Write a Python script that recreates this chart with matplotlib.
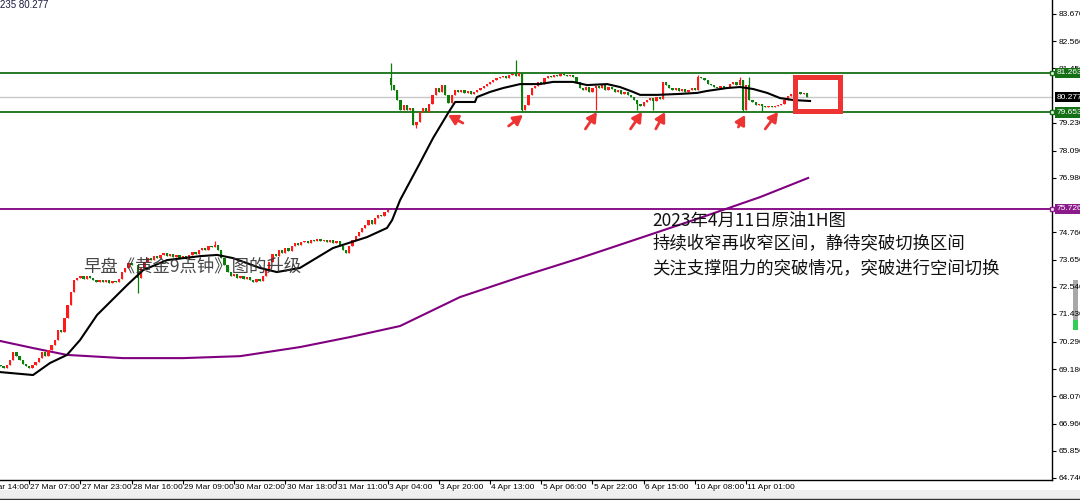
import numpy as np
import matplotlib.pyplot as plt
from matplotlib.patches import Rectangle
from matplotlib.lines import Line2D
from matplotlib.transforms import blended_transform_factory

plt.rcParams['font.family'] = ['Liberation Sans', 'DejaVu Sans']
CJK = ['Noto Sans CJK SC', 'DejaVu Sans']

# 原油 1H 收盘价 (bar 7 .. 259)
bar_start = 7
closes = [
    69.31, 69.23, 69.35, 69.55, 69.88, 69.71, 69.55, 69.39, 69.31, 69.23,
    69.35, 69.47, 69.63, 69.88, 69.71, 69.96, 70.17, 70.37, 70.78, 70.70,
    71.27, 71.80, 72.33, 72.82, 72.90, 72.98, 72.86, 72.98, 72.90, 72.82,
    72.75, 72.82, 72.75, 72.82, 72.69, 72.78, 72.75, 72.86, 73.14, 73.31,
    73.51, 73.43, 73.43, 72.90, 73.31, 73.55, 73.71, 73.63, 73.79, 73.71,
    73.84, 73.92, 73.79, 73.88, 73.76, 73.84, 73.71, 73.79, 73.67, 73.84,
    73.96, 73.88, 74.04, 74.12, 74.04, 74.20, 74.16, 74.24, 74.04, 73.71,
    73.43, 73.14, 72.98, 73.06, 72.90, 72.98, 72.86, 72.94, 72.82, 72.75,
    72.86, 72.78, 72.98, 73.22, 73.55, 73.88, 73.79, 74.04, 73.92, 74.12,
    74.00, 74.20, 74.33, 74.24, 74.37, 74.41, 74.33, 74.45, 74.41, 74.49,
    74.41, 74.45, 74.37, 74.45, 74.33, 74.41, 74.20, 74.04, 73.92, 74.20,
    74.45, 74.61, 74.78, 74.94, 75.06, 75.26, 75.10, 75.35, 75.47, 75.43,
    75.59, 75.67,
    80.77, 80.57, 80.16, 79.75, 79.96, 79.75, 79.83, 79.14, 79.26, 79.67,
    79.83, 79.67, 80.00, 80.37, 80.65, 80.49, 80.77, 80.37, 80.04, 80.37,
    80.57, 80.49, 80.57, 80.45, 80.53, 80.41, 80.49, 80.57, 80.65, 80.73,
    80.81, 80.90, 80.98, 81.06, 81.10, 81.14, 81.06, 81.18, 81.22, 81.14,
    81.26, 79.75, 79.96, 80.37, 80.65, 80.73, 80.90, 80.81, 81.06, 81.14,
    81.10, 81.18, 81.14, 81.22, 81.18, 81.14, 81.18, 81.10, 80.90, 80.65,
    80.57, 80.69, 80.49, 80.65, 80.73, 80.65, 80.77, 80.57, 80.69, 80.61,
    80.49, 80.57, 80.41, 80.49, 80.37, 80.28, 80.16, 80.00, 79.92, 80.08,
    80.16, 80.24, 80.12, 80.28, 80.20, 80.90, 80.77, 80.65, 80.57, 80.65,
    80.53, 80.61, 80.49, 80.57, 80.65, 80.57, 81.10, 81.06, 80.98, 80.81,
    80.77, 80.69, 80.65, 80.73, 80.65, 80.69, 80.81, 80.90, 80.77, 80.98,
    79.75, 80.77, 80.16, 80.08, 79.96, 80.00, 79.92, 79.87, 79.92, 79.87,
    79.92, 79.96, 80.00, 80.16, 80.32, 80.41, 80.32, 80.49, 80.41, 80.45,
    80.28,
]
first_open = 69.35
gap_opens = {129: 81.06}
wick_highs = {74: 74.41, 129: 81.67, 168: 81.79, 225: 81.18, 238: 81.10, 241: 81.10}
wick_lows = {50: 72.29, 129: 80.57, 137: 79.02, 170: 79.67, 193: 79.75,
             206: 79.75, 211: 79.75, 239: 79.67, 245: 79.67}

# 均线 (黑: 短期, 紫: 长期)
black_ma_x = [6.9, 17.2, 22.5, 27.8, 31.9, 37.2, 41.9, 46.6, 51.6, 59.1, 69.4, 74.7,
              79.7, 88.1, 93.4, 100.6, 110.9, 121.6, 127.8, 129.4, 131.9, 138.1,
              142.2, 146.9, 149.1, 155.3, 155.9, 160.0, 164.1, 169.4, 175.6, 179.7,
              185.9, 190.3, 196.6, 200.6, 204.7, 206.9, 212.2, 219.4, 224.7, 227.8,
              234.1, 238.1, 242.2, 246.6, 250.6, 254.7, 260.0]
black_ma_y = [69.06, 68.94, 69.43, 69.76, 70.37, 71.39, 72.00, 72.61, 73.22, 73.63,
              73.79, 73.84, 73.71, 73.31, 73.14, 73.31, 74.12, 74.57, 74.94, 75.26,
              76.08, 77.59, 78.61, 79.63, 80.08, 80.08, 80.28, 80.49, 80.65, 80.81,
              80.81, 80.90, 80.90, 80.77, 80.81, 80.69, 80.49, 80.37, 80.37, 80.41,
              80.45, 80.53, 80.65, 80.69, 80.61, 80.45, 80.24, 80.16, 80.12]
purple_ma_x = [6.9, 17.2, 27.8, 45.3, 64.1, 81.9, 100.6, 116.3, 131.9, 150.6,
               169.4, 188.1, 206.9, 225.6, 244.4, 259.4]
purple_ma_y = [70.33, 70.04, 69.76, 69.63, 69.63, 69.71, 70.08, 70.49, 70.94, 72.12,
               72.94, 73.71, 74.53, 75.35, 76.20, 76.98]

resistance = 81.263
support = 79.653
last_price = 80.277
purple_level = 75.726

tick_bars = [0, 16, 32, 48, 64, 80, 96, 112, 128, 144, 160, 176, 192, 208, 224, 240]
tick_labels = ['26 Mar 14:00', '27 Mar 07:00', '27 Mar 23:00', '28 Mar 16:00',
               '29 Mar 09:00', '30 Mar 02:00', '30 Mar 18:00', '31 Mar 11:00',
               '3 Apr 04:00', '3 Apr 20:00', '4 Apr 13:00', '5 Apr 06:00',
               '5 Apr 22:00', '6 Apr 15:00', '10 Apr 08:00', '11 Apr 01:00']
price_ticks = [83.670, 82.560, 81.450, 79.230, 78.090, 76.980, 74.760,
               73.650, 72.540, 71.430, 70.290, 69.180, 68.070, 66.960, 65.850, 64.740]

arrow_tails = [(151.5, 79.22), (165.8, 79.10), (189.8, 78.98), (203.9, 78.98),
               (211.8, 78.98), (237.6, 79.06), (246.0, 78.98)]
arrow_heads = [(146.9, 79.55), (170.3, 79.55), (193.4, 79.67), (207.5, 79.67),
               (214.7, 79.67), (239.7, 79.55), (250.0, 79.67)]

RED = '#ff1a1a'
GREEN = '#0b7d0b'
LINE_GREEN = '#157015'
PURPLE = '#800080'
MARK_RED = '#ee3333'

closes = np.array(closes)
x = np.arange(bar_start, bar_start + len(closes))
opens = np.concatenate([[first_open], closes[:-1]])
for b, v in gap_opens.items():
    opens[b - bar_start] = v
highs = np.maximum(opens, closes)
lows = np.minimum(opens, closes)
for b, v in wick_highs.items():
    highs[b - bar_start] = v
for b, v in wick_lows.items():
    lows[b - bar_start] = v
colors = np.where(closes >= opens, RED, GREEN)

fig = plt.figure(figsize=(10.8, 5.0), dpi=100)
ax = fig.add_axes([0, 0.04, 1052 / 1080, 0.96])

ax.axhline(last_price, color='#c8c8c8', lw=1, zorder=1)
ax.axhline(resistance, color=LINE_GREEN, lw=1.3, zorder=2)
ax.axhline(support, color=LINE_GREEN, lw=1.3, zorder=2)
ax.axhline(purple_level, color=PURPLE, lw=1.3, zorder=2)
ax.plot(purple_ma_x, purple_ma_y, color=PURPLE, lw=1.5, zorder=2)

ax.vlines(x, lows, highs, colors=colors, lw=0.9, zorder=3)
ax.bar(x, np.abs(closes - opens), bottom=np.minimum(opens, closes), width=0.7,
       color=colors, lw=0, zorder=3)

ax.plot(black_ma_x, black_ma_y, color='black', lw=1.5, zorder=4)

for t, h in zip(arrow_tails, arrow_heads):
    ax.annotate('', xy=h, xytext=t, zorder=6,
                arrowprops=dict(arrowstyle='-|>,head_length=0.8,head_width=0.45',
                                color=MARK_RED, lw=2, shrinkA=0, shrinkB=0,
                                mutation_scale=7))

ax.add_patch(Rectangle((255.2, 79.73), 14.0, 1.35, fill=False, ec=MARK_RED,
                       lw=3.6, zorder=8))

ax.text(0.079, 0.444, '早盘《黄金9点钟》图的升级', transform=ax.transAxes,
        family=CJK, fontsize=12.5, color='#333333', alpha=0.9, va='center', zorder=7)
ax.text(0.6198, 0.5396, '2023年4月11日原油1H图', transform=ax.transAxes,
        family=CJK, fontsize=12.5, color='#111111', va='center', zorder=7)
ax.text(0.6198, 0.4917, '持续收窄再收窄区间，静待突破切换区间', transform=ax.transAxes,
        family=CJK, fontsize=12.5, color='#111111', va='center', zorder=7)
ax.text(0.6198, 0.4417, '关注支撑阻力的突破情况，突破进行空间切换', transform=ax.transAxes,
        family=CJK, fontsize=12.5, color='#111111', va='center', zorder=7)

for s in ['left', 'top']:
    ax.spines[s].set_visible(False)
for s in ['right', 'bottom']:
    ax.spines[s].set_color('black')
    ax.spines[s].set_linewidth(1)

ax.set_xticks(tick_bars)
ax.tick_params(axis='x', labelbottom=False, length=3, direction='out', width=0.8)
for b, lab in zip(tick_bars, tick_labels):
    ax.text(b + 0.4, -0.008, lab, transform=ax.get_xaxis_transform(), ha='left',
            va='top', fontsize=6, clip_on=False)

ax.yaxis.tick_right()
ax.set_yticks(price_ticks)
ax.set_yticklabels([f'{v:.3f}' for v in price_ticks])
ax.tick_params(axis='y', length=3, width=0.8, pad=2, labelsize=6)

# 刻度设置之后再定范围
ax.set_xlim(6.875, 335.6)
ax.set_ylim(64.657, 84.241)

trans = blended_transform_factory(ax.transAxes, ax.transData)
for val, fc in [(resistance, LINE_GREEN), (last_price, 'black'),
                (support, LINE_GREEN), (purple_level, '#8b1a8b')]:
    ax.text(1.0 + 5 / 1052, val, f'{val:.3f}', transform=trans, ha='left',
            va='center', fontsize=6, color='white', zorder=9, clip_on=False,
            bbox=dict(boxstyle='square,pad=0.2', fc=fc, ec='none'))
    if fc != 'black':
        ax.plot([1.0], [val], marker='s', ms=3, mfc='white', mec=fc, mew=1,
                transform=trans, clip_on=False, zorder=10)

fig.text(0.0, 1.0, '235 80.277', ha='left', va='top', fontsize=7, color='#1a1a40')

fig.patches.append(Rectangle((1073 / 1080, (500 - 320) / 500), 5 / 1080, 40 / 500,
                             transform=fig.transFigure, fc='#a8a8a8', ec='none', zorder=-1))
fig.patches.append(Rectangle((1073 / 1080, (500 - 330) / 500), 5 / 1080, 10 / 500,
                             transform=fig.transFigure, fc='#33cc55', ec='none', zorder=-1))
fig.patches.append(Rectangle((0, 0), 1, 10 / 500, transform=fig.transFigure,
                             fc='#efefef', ec='none', zorder=-1))
fig.add_artist(Line2D([0, 1], [0.003, 0.003], color='#333333', lw=1))

fig.savefig('out.png', dpi=100)
